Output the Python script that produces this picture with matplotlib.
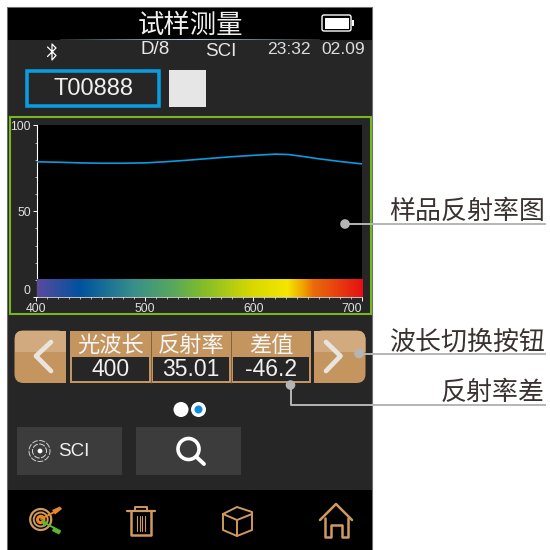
import numpy as np
import matplotlib
matplotlib.use("Agg")
import matplotlib.pyplot as plt
from matplotlib.patches import Rectangle, FancyBboxPatch, Circle, Polygon
from matplotlib.colors import LinearSegmentedColormap

plt.rcParams['font.family'] = ['Liberation Sans', 'Noto Sans CJK SC', 'DejaVu Sans']
CJK = ['Noto Sans CJK SC', 'DejaVu Sans']

# ---- data ----
wavelength = [400, 420, 440, 460, 480, 500, 520, 540, 560, 580, 600, 620, 632, 645, 660, 680, 700]
reflectance = [78.8, 78.6, 78.2, 78.0, 78.0, 78.2, 78.9, 79.8, 80.8, 81.8, 82.6, 83.3, 83.1, 82.0, 80.6, 79.0, 77.6]
spectrum_pos = [0.0, 0.13, 0.3, 0.42, 0.5, 0.66, 0.77, 0.82, 0.85, 0.9, 1.0]
spectrum_col = ['#5a4a9c', '#00529f', '#39908a', '#5aa85a', '#7dbb2c', '#d8d800', '#f5e600',
                '#f0a000', '#ea6a0a', '#e84e0c', '#e60f14']
x_ticks = [400, 500, 600, 700]
y_ticks = [0, 50, 100]
col_heads = ['光波长', '反射率', '差值']
col_vals = ['400', '35.01', '-46.2']
callouts = ['样品反射率图', '波长切换按钮', '反射率差']
title = '试样测量'

W = H = 550
fig = plt.figure(figsize=(5.5, 5.5), dpi=100, facecolor='white')
ui = fig.add_axes([0, 0, 1, 1])
ui.set_xlim(0, W); ui.set_ylim(H, 0); ui.axis('off')

BG = '#262626'; TAN = '#c4955f'; TANL = '#d2aa80'; ICON = '#cf9a60'; GREY = '#b5b5b5'

def rect(x0, y0, x1, y1, fc='none', ec='none', lw=0, z=1):
    ui.add_patch(Rectangle((x0, y0), x1-x0, y1-y0, fc=fc, ec=ec, lw=lw, zorder=z))

def line(xs, ys, c='white', lw=1.0, z=6, **kw):
    ui.plot(xs, ys, color=c, lw=lw, zorder=z, solid_capstyle=kw.pop('cap', 'round'),
            solid_joinstyle='round', **kw)

# device body
rect(7, 7, 372, 550, fc=BG, ec='#6e6e6e', lw=0.8)
rect(8, 7.5, 372, 40, fc='black')
rect(8, 490, 372, 550, fc='black')
# glowing divider below the title
grad = LinearSegmentedColormap.from_list('g', ['#262626', '#9fd4e4', '#262626'])
ui.imshow(np.linspace(0, 1, 200)[None, :], cmap=grad, extent=(60, 320, 40.3, 39.3), aspect='auto', zorder=2)
ui.set_xlim(0, W); ui.set_ylim(H, 0)

ui.text(190, 25.5, title, color='#f0f0f0', fontsize=19, family=CJK, ha='center', va='center', zorder=5)
# battery
ui.add_patch(FancyBboxPatch((322, 15), 29, 16, boxstyle='round,pad=0,rounding_size=2', fc='black', ec='white', lw=1, zorder=5))
rect(324.5, 17.5, 349, 28.5, fc='white', z=6)
rect(352, 20, 354, 26, fc='white', z=6)

# status row
line([47.5, 56, 52, 52, 56, 47.5], [47, 55.5, 60, 44, 48, 56.5], c='white', lw=0.9)
ui.text(155, 50, 'D/8', color='#e8e8e8', fontsize=13.5, ha='center', va='center')
ui.text(220.5, 51, 'SCI', color='#e8e8e8', fontsize=13.5, ha='center', va='center')
ui.text(289, 49.5, '23:32', color='#dddddd', fontsize=12.6, ha='center', va='center')
ui.text(343, 49.5, '02.09', color='#dddddd', fontsize=12.6, ha='center', va='center')

# sample id
rect(27, 71, 159, 106, fc=BG, ec='#0a9be0', lw=2.6, z=3)
ui.text(93, 89, 'T00888', color='#f0f0f0', fontsize=17, ha='center', va='center', zorder=5)
rect(169, 70, 206, 107, fc='#e6e6e6', z=3)

# chart frame
rect(10, 117, 370.5, 314, ec='#74b81e', lw=1.5, z=3)

# chart
def fx(px): return px / W
def fy(py): return 1 - py / H
ax = fig.add_axes([fx(36.5), fy(297), fx(362 - 36.5), fy(125.5) - fy(297)], facecolor='black', zorder=3)
ax.set_xlim(400, 700); ax.set_ylim(0, 100)
spec = LinearSegmentedColormap.from_list('spec', list(zip(spectrum_pos, spectrum_col)))
ax.imshow(np.linspace(0, 1, 512)[None, :], cmap=spec, extent=(400, 700, 0, 10), aspect='auto', zorder=4)
ax.set_xlim(400, 700); ax.set_ylim(0, 100)
ax.plot(wavelength, reflectance, color='#0a9be0', lw=1.2, zorder=3)
for s in ['top', 'right']:
    ax.spines[s].set_visible(False)
ax.spines['left'].set_color('white'); ax.spines['bottom'].set_color('white')
ax.spines['left'].set_linewidth(0.8); ax.spines['bottom'].set_linewidth(0.5)
ax.set_xticks(x_ticks); ax.set_yticks(y_ticks)
ax.set_xticks(range(410, 700, 10), minor=True); ax.set_yticks(range(10, 100, 10), minor=True)
ax.tick_params(axis='both', which='major', length=3, width=0.7, color='white', labelcolor='#e0e0e0',
               labelsize=8.8, pad=1.2)
ax.tick_params(axis='both', which='minor', length=1.6, width=0.6, color='#cccccc')
labs = ax.get_xticklabels()
labs[-1].set_ha('right'); labs[-1].set_x(701)
ax.get_yticklabels()[0].set_va('bottom')

# nav buttons
def nav(x0, x1, rl, rr):
    w = x1 - x0
    y0, y1 = 330.5, 383
    p = FancyBboxPatch((x0, y0), w, y1 - y0, boxstyle='round,pad=0,rounding_size=9', fc=TAN, ec='none', zorder=3)
    ui.add_patch(p)
    top = ui.add_patch(Rectangle((x0, y0), w, 21, fc=TANL, ec='none', zorder=4))
    top.set_clip_path(p)
    sq = x0 if rl == 0 else x1 - 12
    rect(sq, y0, sq + 12, y0 + 21, fc=TANL, z=4)
    rect(sq, y0 + 21, sq + 12, y1, fc=TAN, z=4)
nav(14.5, 66, 1, 0)
nav(314, 365.5, 0, 1)
line([51, 36, 51], [342, 356, 371], c='#e8e4de', lw=3.4)
line([326, 340.5, 326], [342, 356, 371], c='#e8e4de', lw=3.4)

# table
rect(70, 330.5, 311, 383, fc=TAN, z=3)
edges = [70, 150.5, 230.5, 311]
for i in range(3):
    a, b = edges[i], edges[i + 1]
    rect(a + 2, 357, b - 2, 381, fc=BG, z=4)
    if i:
        line([a, a], [330.5, 383], c='#7d6344', lw=0.7, cap='butt')
    ui.text((a + b) / 2 + 0.5, 345, col_heads[i], color='#f5f5f5', fontsize=16, family=CJK,
            ha='center', va='center', zorder=5)
    ui.text((a + b) / 2 + 0.5, 369.5, col_vals[i], color='#f0f0f0', fontsize=16.5, ha='center', va='center', zorder=5)

# page dots
ui.add_patch(Circle((181, 409.5), 7.5, fc='white', ec='none', zorder=4))
ui.add_patch(Circle((198.5, 409.5), 7.5, fc='white', ec='none', zorder=4))
ui.add_patch(Circle((198.5, 409.5), 4, fc='#0a8fe0', ec='none', zorder=5))

# buttons
rect(17, 427, 122, 475, fc='#3c3c3c', z=3)
rect(136, 427, 241, 475, fc='#3c3c3c', z=3)
ui.add_patch(Circle((39.5, 451), 10.5, fc='none', ec='#cfcfcf', lw=0.7, ls=(0, (6, 1.5)), zorder=5))
ui.add_patch(Circle((39.5, 451), 7, fc='none', ec='#dddddd', lw=0.7, ls=(0, (6, 1.5)), zorder=5))
ui.add_patch(Circle((40, 451), 2.4, fc='white', ec='none', zorder=5))
ui.text(73.5, 451, 'SCI', color='#f0f0f0', fontsize=13.5, ha='center', va='center', zorder=5)
ui.add_patch(Circle((188.5, 449), 10.5, fc='none', ec='white', lw=2.6, zorder=5))
line([197, 204], [457.5, 464], c='white', lw=2.8)

# bottom icons
for r, lw, c in [(10.5, 1.6, ICON), (7, 1.4, ICON), (3.2, 2.2, '#e8872a')]:
    ui.add_patch(Circle((40.7, 519.5), r, fc='none', ec=c, lw=lw, zorder=5))
line([41, 58], [519, 510], c='#e8872a', lw=1.4)
ui.add_patch(Polygon([[52, 510], [60, 506.5], [62, 509], [55, 514.5]], fc='#e8872a', ec='none', zorder=6))
line([43, 60], [522, 531], c='#5cb531', lw=1.4)
ui.add_patch(Polygon([[41, 520], [48, 522], [44, 527]], fc='#5cb531', ec='none', zorder=6))
ui.add_patch(Polygon([[53, 528], [61, 531.5], [59, 534.5], [52, 531]], fc='#5cb531', ec='none', zorder=6))

# trash
line([127, 154.5], [511, 511], c=ICON, lw=1.6)
line([135, 135, 147, 147], [511, 507, 507, 511], c=ICON, lw=1.4)
line([131, 131, 151, 151], [511, 534.5, 534.5, 511], c=ICON, lw=1.8)
for xv in [137, 139.5, 142, 144.5]:
    line([xv, xv], [516, 531], c=ICON, lw=0.8)

# cube
line([223, 237, 252, 252, 237, 223, 223], [514, 507, 512, 530, 536, 530, 514], c=ICON, lw=1.4)
line([223, 237, 252], [514, 520, 514], c=ICON, lw=1.4)
line([237, 237], [520, 536], c=ICON, lw=1.4)

# home
line([320, 336, 352], [520, 504, 520], c=ICON, lw=1.8)
line([324.5, 324.5, 330.5, 330.5, 341.5, 341.5, 347.5, 347.5],
     [518, 537, 537, 525, 525, 537, 537, 518], c=ICON, lw=1.8)

# callouts (drawn above the chart)
over = fig.add_axes([0, 0, 1, 1], zorder=10, facecolor='none')
over.set_xlim(0, W); over.set_ylim(H, 0); over.axis('off')
over.plot([345, 545], [224, 224], color=GREY, lw=1.4)
over.add_patch(Circle((345, 224), 4.8, fc=GREY, ec='none'))
over.plot([359, 545], [353.5, 353.5], color=GREY, lw=1.4)
over.add_patch(Circle((359, 353.5), 4.8, fc=GREY, ec='none'))
over.plot([290.5, 290.5, 545], [385, 404.5, 404.5], color=GREY, lw=1.4)
over.add_patch(Circle((290.5, 385), 4.8, fc=GREY, ec='none'))
for txt, xr, yc in zip(callouts, [545, 545, 545], [211, 342.5, 392.5]):
    over.text(xr, yc, txt, color='#3a3230', fontsize=18.7, family=CJK, ha='right', va='center')

fig.savefig('out.png', dpi=100, facecolor='white')
